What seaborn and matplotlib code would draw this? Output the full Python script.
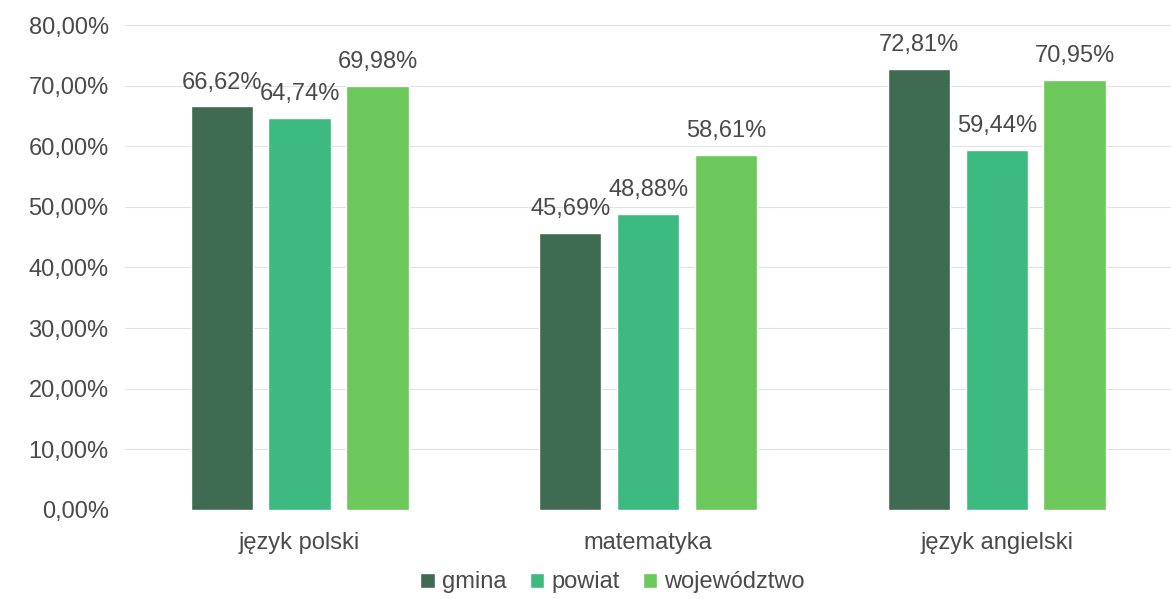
import matplotlib
matplotlib.use("Agg")
import matplotlib.pyplot as plt
import pandas as pd
import seaborn as sns

# data
subjects = ["język polski", "matematyka", "język angielski"]
levels = ["gmina", "powiat", "województwo"]
gmina = [66.62, 45.69, 72.81]
powiat = [64.74, 48.88, 59.44]
wojewodztwo = [69.98, 58.61, 70.95]
y_ticks = [0, 10, 20, 30, 40, 50, 60, 70, 80]

colors = ["#3e6b52", "#3dba80", "#6cc85a"]
text_col = "#4a4a4a"

df = pd.DataFrame({
    "subject": subjects * 3,
    "level": [l for l in levels for _ in subjects],
    "value": gmina + powiat + wojewodztwo,
})

sns.set_theme(style="white")
plt.rcParams["font.family"] = ["Liberation Sans", "DejaVu Sans"]

fig = plt.figure(figsize=(11.71, 5.99), dpi=100)
ax = fig.add_axes([0.107, 0.149, 0.893, 0.809])

sns.barplot(data=df, x="subject", y="value", hue="level", order=subjects,
            hue_order=levels, palette=colors, width=0.67, gap=0.2,
            saturation=1, ax=ax, legend=True)

for c in ax.containers:
    ax.bar_label(c, labels=[f"{v:.2f}%".replace(".", ",") for v in c.datavalues],
                 padding=9, fontsize=17, color=text_col)

ax.set_ylim(0, 80)
ax.set_yticks(y_ticks)
ax.set_yticklabels([f"{t:.2f}%".replace(".", ",") for t in y_ticks],
                   fontsize=17, color=text_col)
ax.tick_params(axis="x", labelsize=17, labelcolor=text_col, pad=16, length=0)
ax.tick_params(axis="y", length=0, pad=12)
ax.set_xlabel("")
ax.set_ylabel("")
ax.yaxis.grid(True, color="#e2e2e2", linewidth=0.8)
ax.set_axisbelow(True)
for s in ax.spines.values():
    s.set_visible(False)

ax.legend(loc="center", bbox_to_anchor=(0.466, -0.15), ncol=3,
          frameon=False, fontsize=17, handlelength=0.6, handleheight=0.6,
          handletextpad=0.3, columnspacing=1.0, labelcolor=text_col)

fig.savefig("out.png", dpi=100)
